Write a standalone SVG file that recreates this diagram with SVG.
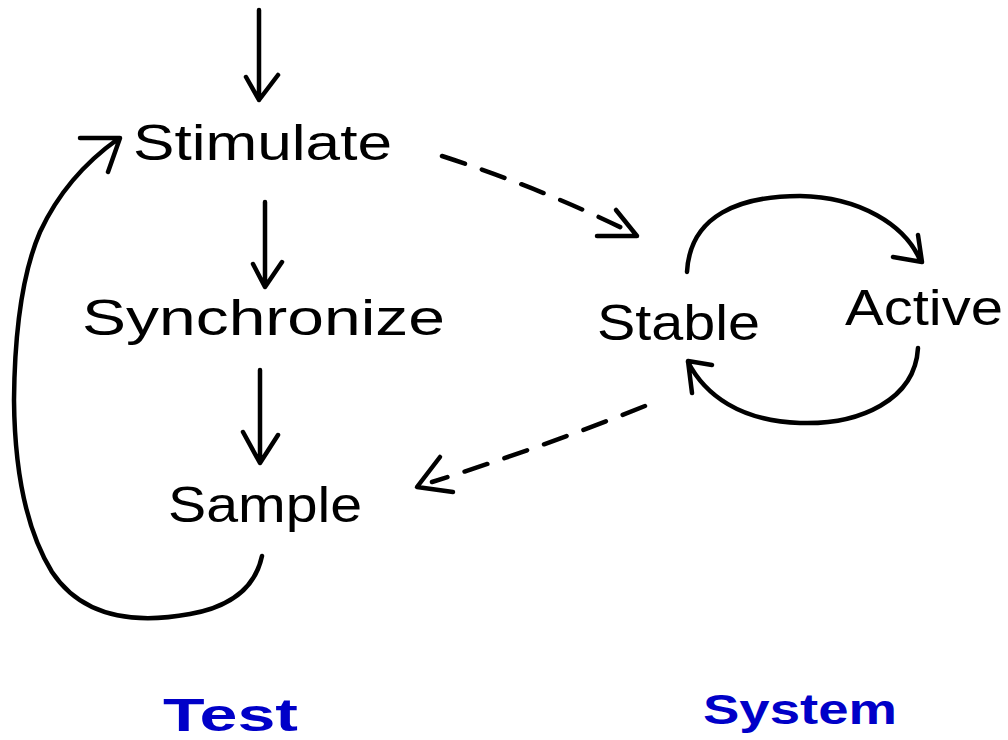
<svg xmlns="http://www.w3.org/2000/svg" width="1008" height="740" viewBox="0 0 1008 740">
<defs>
<style>
.c{fill:none;stroke:#000;stroke-width:4.5;stroke-linecap:round;stroke-linejoin:round}
.d{stroke-dasharray:24 18}
.t{font-family:"Liberation Sans",Arial,sans-serif;font-size:50px;fill:#000}
.b{font-family:"Liberation Sans",Arial,sans-serif;font-weight:bold;fill:#0000c8}
</style>
</defs>
<rect width="1008" height="740" fill="#fff"/>
<g id="connectors">
<path class="c" d="M259,10 L259,100 M246,77 L259,100 L278,75"/>
<path class="c" d="M265,202 L265,286 M253,264 L265,287 L282,262"/>
<path class="c" d="M260,370 L260,462 M243,432 L260,463 L278,435"/>
<path class="c" d="M262,556 Q252,603 190,614 Q92,632 52,572 Q15,512 14,400 Q15,290 40,232 Q66,176 118,139 M80,138 L120,138 L108,172"/>
<path class="c d" d="M442,156 Q540,188 622,228"/>
<path class="c" d="M597,236 L637,236 L616,210"/>
<path class="c d" d="M645,406 Q540,448 432,482"/>
<path class="c" d="M440,457 L417,487 L453,492"/>
<path class="c" d="M687,272 C690,215 740,196 800,196 C860,197 905,225 920,260 M893,257 L922,262 L918,235"/>
<path class="c" d="M918,348 C915,400 860,425 800,423 C740,421 705,395 688,362 M712,365 L688,361 L692,393"/>
</g>
<g id="stimulate"><text class="t" x="133" y="160" textLength="259" lengthAdjust="spacingAndGlyphs">Stimulate</text></g>
<g id="synchronize"><text class="t" x="82" y="335" textLength="363" lengthAdjust="spacingAndGlyphs">Synchronize</text></g>
<g id="sample"><text class="t" x="168" y="522" textLength="194" lengthAdjust="spacingAndGlyphs">Sample</text></g>
<g id="stable"><text class="t" x="597" y="340" textLength="163" lengthAdjust="spacingAndGlyphs">Stable</text></g>
<g id="active"><text class="t" x="845" y="325" textLength="158" lengthAdjust="spacingAndGlyphs">Active</text></g>
<g id="test"><text class="b" x="163" y="731" font-size="46" textLength="135" lengthAdjust="spacingAndGlyphs">Test</text></g>
<g id="system"><text class="b" x="703" y="724" font-size="42" textLength="194" lengthAdjust="spacingAndGlyphs">System</text></g>
</svg>
